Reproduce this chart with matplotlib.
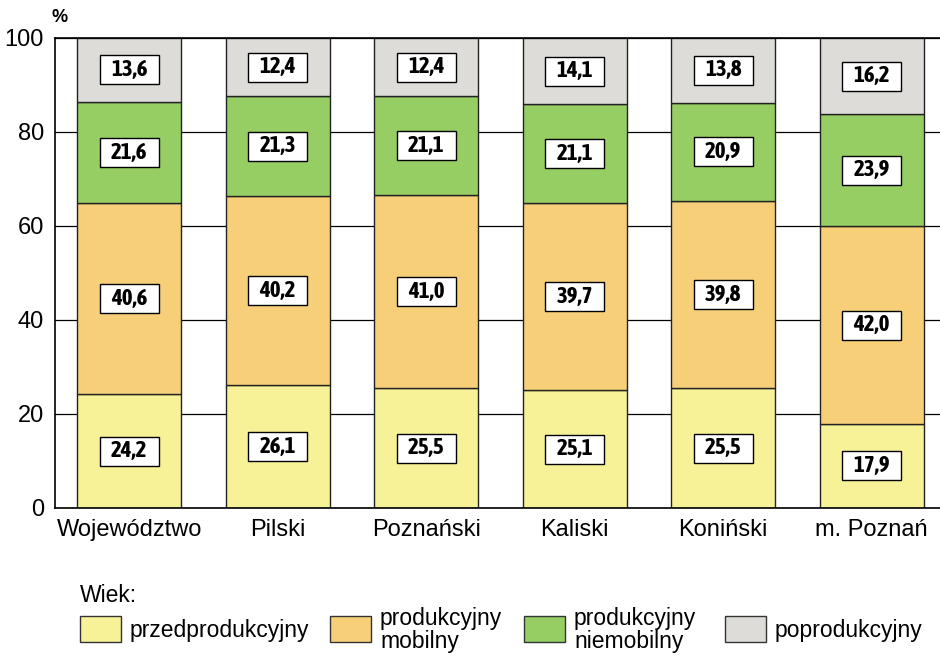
import numpy as np
import matplotlib.pyplot as plt
from matplotlib.patches import Rectangle
from matplotlib.transforms import ScaledTranslation
from matplotlib import font_manager

regions = ["Województwo", "Pilski", "Poznański", "Kaliski", "Koniński", "m. Poznań"]
przed = [24.2, 26.1, 25.5, 25.1, 25.5, 17.9]
mobilny = [40.6, 40.2, 41.0, 39.7, 39.8, 42.0]
niemobilny = [21.6, 21.3, 21.1, 21.1, 20.9, 23.9]
popro = [13.6, 12.4, 12.4, 14.1, 13.8, 16.2]

series = [przed, mobilny, niemobilny, popro]
names = ["przedprodukcyjny", "produkcyjny\nmobilny", "produkcyjny\nniemobilny", "poprodukcyjny"]
colors = ["#F7F197", "#F7CF78", "#97CE64", "#DEDCD8"]

plt.rcParams['font.family'] = ['Liberation Sans', 'DejaVu Sans']

# condensed bold font for the value boxes, if one is installed
narrow = None
for f in font_manager.fontManager.ttflist:
    if ("Narrow" in f.name or "Condensed" in f.name) and f.weight in ("bold", 700):
        narrow = f.name
        break
val_family = [narrow, "Liberation Sans"] if narrow else ["Liberation Sans"]
val_size = 16.5 if narrow else 14

W, H = 940, 655
fig = plt.figure(figsize=(W / 100, H / 100), dpi=100)
ax = fig.add_axes([55 / W, 147 / H, 885 / W, 470 / H])

x = np.arange(len(regions))
bottom = np.zeros(len(regions))
for vals, c in zip(series, colors):
    vals = np.array(vals)
    ax.bar(x, vals, 0.70, bottom=bottom, color=c, edgecolor="#222222", linewidth=1.0, zorder=2)
    for xi, b, v in zip(x, bottom, vals):
        yc = b + v / 2
        # fixed-size white label box (59x29 px)
        tr = fig.dpi_scale_trans + ScaledTranslation(xi, yc, ax.transData)
        ax.add_artist(Rectangle((-0.295, -0.145), 0.59, 0.29, transform=tr,
                                facecolor="white", edgecolor="black", linewidth=1.0, zorder=3))
        ax.text(xi, yc, f"{v:.1f}".replace(".", ","), ha="center", va="center",
                fontsize=val_size, fontweight="bold", family=val_family, zorder=4)
    bottom += vals

ax.set_xlim(-0.5, 5.46)
ax.set_ylim(0, 100)
ax.set_yticks([0, 20, 40, 60, 80, 100])
ax.yaxis.grid(True, color="black", linewidth=0.9, zorder=0)
ax.set_axisbelow(True)
ax.tick_params(axis="both", length=0, labelsize=17, pad=8)
ax.set_xticks(x)
ax.set_xticklabels(regions)
ax.spines["right"].set_visible(False)
for s in ["left", "bottom", "top"]:
    ax.spines[s].set_linewidth(1.2)
fig.text(52 / W, 1 - 18 / H, "%", fontsize=13, fontweight="bold", ha="left", va="center")

# legend, laid out by hand in figure pixels
fig.text(80 / W, 1 - 595 / H, "Wiek:", fontsize=16.5, ha="left", va="center")
patch_x = [80, 330, 524, 725]
for px, c, name in zip(patch_x, colors, names):
    fig.add_artist(Rectangle((px / W, 1 - 642 / H), 41 / W, 26 / H, transform=fig.transFigure,
                             facecolor=c, edgecolor="#333333", linewidth=1.0))
    fig.text((px + 50) / W, 1 - 630 / H, name, fontsize=16.5, ha="left", va="center",
             linespacing=1.02)

fig.savefig("out.png", dpi=100)
